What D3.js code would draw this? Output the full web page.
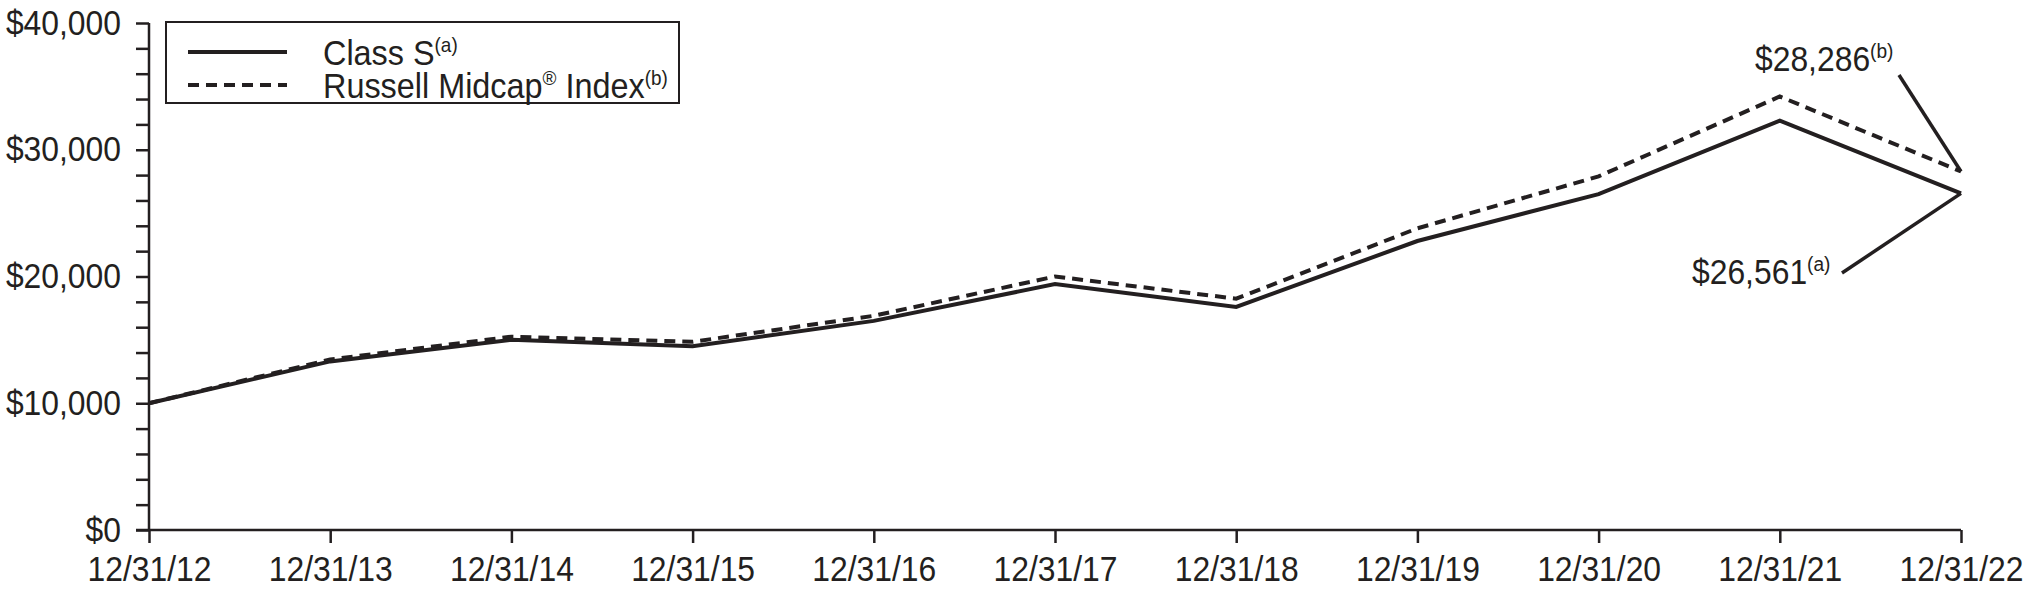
<!DOCTYPE html>
<html>
<head>
<meta charset="utf-8">
<script src="https://cdn.jsdelivr.net/npm/d3@7"></script>
<style>
  body { margin: 0; background: #fff; }
  svg { display: block; }
  text { font-family: "Liberation Sans", Arial, Helvetica, sans-serif; fill: #231f20; }
</style>
</head>
<body>
<div id="chart"></div>
<script>
// data
var dates = ["12/31/12", "12/31/13", "12/31/14", "12/31/15", "12/31/16", "12/31/17",
             "12/31/18", "12/31/19", "12/31/20", "12/31/21", "12/31/22"];
var classS = [10000, 13300, 15000, 14500, 16500, 19400, 17600, 22800, 26500, 32300, 26561];
var russell = [10000, 13450, 15250, 14850, 16900, 20000, 18250, 23800, 27900, 34200, 28286];
var yTicks = [0, 2000, 4000, 6000, 8000, 10000, 12000, 14000, 16000, 18000, 20000,
              22000, 24000, 26000, 28000, 30000, 32000, 34000, 36000, 38000, 40000];
var yLabels = [0, 10000, 20000, 30000, 40000];

var width = 2028, height = 592;
var ink = "#231f20";
var fontSize = 35;
var supSize = 21;
var squeeze = 0.91; // the original type is a little condensed

var svg = d3.select("#chart").append("svg")
  .attr("width", width)
  .attr("height", height);

// squeeze text horizontally around its own anchor point
function condense(sel, k) {
  sel.each(function () {
    var t = d3.select(this);
    var ax = +t.attr("x") || 0, ay = +t.attr("y") || 0;
    t.attr("transform", "translate(" + ax + "," + ay + ") scale(" + k + ",1) translate(" + (-ax) + "," + (-ay) + ")");
  });
}

var x = d3.scalePoint().domain(dates).range([149, 1961]);
var y = d3.scaleLinear().domain([0, 40000]).range([530, 23]);

var fmt = d3.format("$,");

// y axis
var yAxis = d3.axisLeft(y)
  .tickValues(yTicks)
  .tickSize(13)
  .tickPadding(15)
  .tickFormat(function (d) { return yLabels.indexOf(d) > -1 ? fmt(d) : ""; });

var gy = svg.append("g")
  .attr("transform", "translate(" + x(dates[0]) + ",0)")
  .call(yAxis);
gy.select(".domain").remove();
gy.append("line")
  .attr("x1", 0).attr("x2", 0)
  .attr("y1", y(0)).attr("y2", y(40000))
  .attr("stroke", ink).attr("stroke-width", 2.5);
gy.selectAll(".tick line").attr("stroke", ink).attr("stroke-width", 2.5);
gy.selectAll(".tick text")
  .attr("font-size", fontSize)
  .attr("font-family", null)
  .attr("fill", ink)
  .call(condense, squeeze);

// x axis
var xAxis = d3.axisBottom(x).tickSize(13).tickPadding(13);
var gx = svg.append("g")
  .attr("transform", "translate(0," + y(0) + ")")
  .call(xAxis);
gx.select(".domain").remove();
gx.append("line")
  .attr("x1", x(dates[0]) - 13).attr("x2", x(dates[dates.length - 1]))
  .attr("y1", 0).attr("y2", 0)
  .attr("stroke", ink).attr("stroke-width", 2.5);
gx.selectAll(".tick line").attr("stroke", ink).attr("stroke-width", 2.5);
gx.selectAll(".tick text")
  .attr("font-size", fontSize)
  .attr("font-family", null)
  .attr("fill", ink)
  .call(condense, squeeze);

// lines
var line = d3.line()
  .x(function (d, i) { return x(dates[i]); })
  .y(function (d) { return y(d); });

svg.append("path")
  .datum(russell)
  .attr("d", line)
  .attr("fill", "none")
  .attr("stroke", ink)
  .attr("stroke-width", 4)
  .attr("stroke-dasharray", "11,7");

svg.append("path")
  .datum(classS)
  .attr("d", line)
  .attr("fill", "none")
  .attr("stroke", ink)
  .attr("stroke-width", 4)
  .attr("stroke-linejoin", "miter");

// legend
var legend = svg.append("g").attr("transform", "translate(166,22)");
legend.append("rect")
  .attr("width", 513).attr("height", 81)
  .attr("fill", "#fff")
  .attr("stroke", ink).attr("stroke-width", 2);

var legendItems = [
  { name: "Class S", sup: "(a)", reg: false, dash: null },
  { name: "Russell Midcap", sup: "(b)", reg: true, dash: "11,7" }
];
legendItems.forEach(function (item, i) {
  var ly = 30 + i * 33;
  legend.append("line")
    .attr("x1", 22).attr("x2", 121)
    .attr("y1", ly).attr("y2", ly)
    .attr("stroke", ink).attr("stroke-width", 4)
    .attr("stroke-dasharray", item.dash);
  var t = legend.append("text")
    .attr("x", 157).attr("y", ly + 13)
    .attr("font-size", 36)
    .text(item.name);
  if (item.reg) {
    t.append("tspan").attr("font-size", supSize).attr("dy", -13).text("\u00ae");
    t.append("tspan").attr("font-size", 36).attr("dy", 13).text(" Index");
  }
  t.append("tspan").attr("font-size", supSize).attr("dy", -13).text(item.sup);
  t.call(condense, 0.9);
});

// end value callouts
var last = dates.length - 1;
var callouts = [
  { value: russell[last], sup: "(b)", tx: 1755, ty: 71, lx1: 1899, ly1: 75 },
  { value: classS[last], sup: "(a)", tx: 1692, ty: 284, lx1: 1842, ly1: 273 }
];
callouts.forEach(function (c) {
  var t = svg.append("text")
    .attr("x", c.tx).attr("y", c.ty)
    .attr("font-size", fontSize)
    .text(fmt(c.value));
  t.append("tspan").attr("font-size", supSize).attr("dy", -13).text(c.sup);
  t.call(condense, squeeze);
  svg.append("line")
    .attr("x1", c.lx1).attr("y1", c.ly1)
    .attr("x2", x(dates[last])).attr("y2", y(c.value))
    .attr("stroke", ink).attr("stroke-width", 3.5);
});
</script>
</body>
</html>
